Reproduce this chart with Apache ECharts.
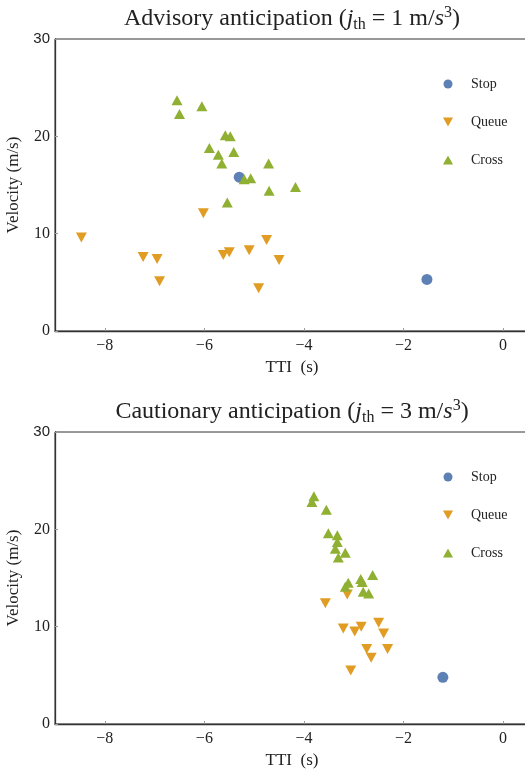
<!DOCTYPE html>
<html>
<head>
<meta charset="utf-8">
<script src="https://cdn.jsdelivr.net/npm/echarts@6/dist/echarts.min.js"></script>
<style>
  html, body { margin: 0; padding: 0; background: #fff; }
  #chart { width: 525px; height: 774px; }
</style>
</head>
<body>
<div id="chart"></div>
<script>
// Observations as [TTI (s), velocity (m/s)]
const advisoryStop = [[-5.30, 15.8], [-1.53, 5.3]];
const advisoryQueue = [
  [-8.47, 9.6], [-7.23, 7.6], [-6.95, 7.4], [-6.90, 5.1], [-6.02, 12.1],
  [-5.62, 7.8], [-5.50, 8.1], [-5.10, 8.3], [-4.91, 4.4], [-4.75, 9.35], [-4.50, 7.3]
];
const advisoryCross = [
  [-6.55, 23.7], [-6.50, 22.3], [-6.05, 23.1], [-5.90, 18.8], [-5.72, 18.1],
  [-5.65, 17.2], [-5.58, 20.1], [-5.54, 13.2], [-5.48, 20.0], [-5.41, 18.4],
  [-5.20, 15.6], [-5.07, 15.7], [-4.71, 17.2], [-4.70, 14.4], [-4.17, 14.8]
];

const cautionaryStop = [[-1.21, 4.8]];
const cautionaryQueue = [
  [-3.57, 12.4], [-3.13, 13.3], [-3.21, 9.8], [-2.98, 9.5], [-2.85, 10.0],
  [-2.50, 10.4], [-2.40, 9.3], [-2.74, 7.7], [-2.32, 7.7], [-2.65, 6.8], [-3.06, 5.5]
];
const cautionaryCross = [
  [-3.80, 23.4], [-3.84, 22.8], [-3.55, 22.0], [-3.51, 19.6], [-3.33, 19.4],
  [-3.33, 18.7], [-3.37, 18.0], [-3.17, 17.6], [-3.31, 17.1], [-3.11, 14.5],
  [-3.17, 14.1], [-2.86, 14.9], [-2.83, 14.6], [-2.62, 15.3], [-2.81, 13.6], [-2.70, 13.4]
];

const xTicks = [-8, -6, -4, -2, 0];
const seriesNames = ['Stop', 'Queue', 'Cross'];
const colors = ['#5E81B5', '#E19C24', '#8FB032'];
const panelTitles = [
  ['Advisory anticipation (', '1'],
  ['Cautionary anticipation (', '3']
];

const SERIF = '"Liberation Serif", "DejaVu Serif", serif';
const SANS = '"Liberation Sans", Arial, sans-serif';
const INK = '#222';

// Marker shapes: circle, downward triangle, upward triangle
const DOWN_TRI = 'path://M0,0L10,0L5,9Z';
const UP_TRI = 'path://M5,0L10,9L0,9Z';
const shapes = ['circle', DOWN_TRI, UP_TRI];

const panels = [
  { top: 39, stop: advisoryStop, queue: advisoryQueue, cross: advisoryCross },
  { top: 432, stop: cautionaryStop, queue: cautionaryQueue, cross: cautionaryCross }
];
const PLOT_H = 292;
const PLOT_W = 474;

const titleRich = {
  b: { fontFamily: SERIF, fontSize: 24, fontWeight: 'normal', color: INK, lineHeight: 28 },
  i: { fontFamily: SERIF, fontSize: 24, fontWeight: 'normal', color: INK, fontStyle: 'italic', lineHeight: 28 },
  sub: { fontFamily: SERIF, fontSize: 16, fontWeight: 'normal', color: INK, lineHeight: 28, verticalAlign: 'bottom', padding: [10, 0, 0, 0] },
  sup: { fontFamily: SERIF, fontSize: 16, fontWeight: 'normal', color: INK, lineHeight: 14, verticalAlign: 'top', padding: [0, 0, 6, 0] }
};

const option = {
  animation: false,
  backgroundColor: '#fff',
  title: panels.map((p, k) => ({
    text: '{b|' + panelTitles[k][0] + '}{i|j}{sub|th}{b| = ' + panelTitles[k][1] + ' m/}{i|s}{sup|3}{b|)}',
    left: 287,
    textAlign: 'center',
    top: p.top - 39,
    textStyle: { fontWeight: 'normal', rich: titleRich }
  })),
  legend: panels.map((p, k) => ({
    orient: 'vertical',
    left: 438,
    top: p.top + 33,
    itemWidth: 10,
    itemHeight: 9,
    itemGap: 24,
    data: seriesNames.map((n, i) => ({ name: n + (k ? ' ' : ''), icon: shapes[i] })),
    formatter: name => name.trim(),
    textStyle: { fontFamily: SERIF, fontSize: 14, color: INK, padding: [0, 0, 0, 13] }
  })),
  grid: panels.map(p => ({
    left: 55, width: PLOT_W, top: p.top, height: PLOT_H,
    outerBoundsMode: 'none',
    containLabel: false,
    show: true, borderColor: '#333', borderWidth: 1, backgroundColor: 'transparent'
  })),
  xAxis: panels.map((p, k) => ({
    gridIndex: k,
    type: 'value',
    min: -9, max: 0.52,
    name: 'TTI  (s)',
    nameLocation: 'middle',
    nameGap: 28,
    nameTextStyle: { fontFamily: SERIF, fontSize: 17, color: INK },
    axisLine: { onZero: false, lineStyle: { color: '#333', width: 1.3 } },
    axisTick: { inside: true, length: 3, lineStyle: { color: '#999' }, customValues: xTicks },
    axisLabel: {
      customValues: xTicks,
      margin: 7,
      fontFamily: SERIF, fontSize: 16, color: INK,
      formatter: v => (v < 0 ? '\u2212' + Math.abs(v) : String(v))
    },
    splitLine: { show: false }
  })),
  yAxis: panels.map((p, k) => ({
    gridIndex: k,
    type: 'value',
    min: 0, max: 30, interval: 10,
    name: 'Velocity (m/s)',
    nameLocation: 'middle',
    nameGap: 29,
    nameTextStyle: { fontFamily: SERIF, fontSize: 17, color: INK },
    axisLine: { onZero: false, lineStyle: { color: '#333', width: 1.3 } },
    axisTick: { inside: true, length: 3, lineStyle: { color: '#999' } },
    axisLabel: {
      margin: 5,
      fontFamily: SERIF, fontSize: 16, color: INK,
      formatter: v => (v === 30 ? '{s|30}' : String(v)),
      rich: { s: { fontFamily: SANS, fontSize: 15, color: INK } }
    },
    splitLine: { show: false }
  })),
  series: []
};

panels.forEach((p, k) => {
  const sets = [p.stop, p.queue, p.cross];
  sets.forEach((data, i) => {
    option.series.push({
      name: seriesNames[i] + (k ? ' ' : ''),
      type: 'scatter',
      xAxisIndex: k,
      yAxisIndex: k,
      data: data,
      symbol: shapes[i],
      symbolSize: i === 0 ? 11 : [11, 10],
      itemStyle: { color: colors[i], opacity: 1 },
      emphasis: { disabled: true }
    });
  });
});

const chart = echarts.init(document.getElementById('chart'), null, { renderer: 'canvas' });
chart.setOption(option);
</script>
</body>
</html>
